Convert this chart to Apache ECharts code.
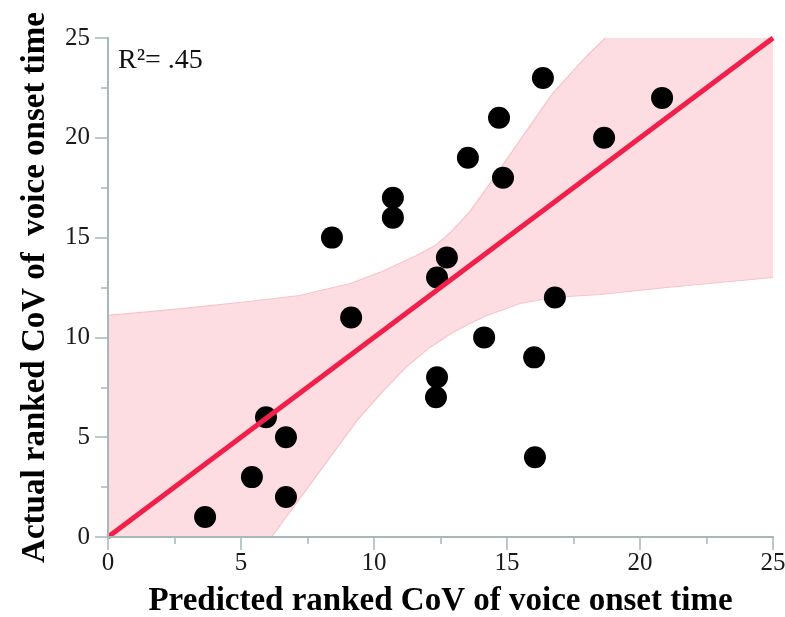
<!DOCTYPE html>
<html>
<head>
<meta charset="utf-8">
<script src="https://cdn.jsdelivr.net/npm/echarts@6/dist/echarts.min.js"></script>
<style>html,body{margin:0;padding:0;background:#fff;}#c{width:785px;height:617px;}</style>
</head>
<body>
<div id="c"></div>
<script>
// Data points: predicted (x) vs actual (y) ranked CoV of voice onset time
const predicted = [3.65, 5.41, 5.94, 6.69, 6.69, 8.42, 9.14, 10.71, 10.71, 12.37, 12.33, 12.37, 12.74, 13.53, 14.14, 14.70, 14.85, 16.02, 16.05, 16.35, 16.80, 18.65, 20.83];
const actual    = [1,    3,    6,    2,    5,    15,   11,   17,    16,    8,     7,     13,    14,    19,    10,    21,    18,    9,     4,     23,    12,    20,    22];
// Fit line (identity)
const fitX = [0, 25];
const fitY = [0, 25];
// Confidence band boundaries (clipped to plot)
const upperX = [0, 2.5, 5.3, 7.2, 9.1, 10.3, 11.6, 12.3, 12.9, 13.6, 14.25, 15.5, 16.7, 18.0, 18.7];
const upperY = [11.1, 11.4, 11.8, 12.1, 12.7, 13.3, 14.1, 14.6, 15.3, 16.3, 17.5, 19.9, 22.2, 24.1, 25];
const lowerX = [6.15, 7.8, 9.4, 10.4, 11.2, 12.1, 12.9, 13.6, 14.25, 15.5, 16.7, 18.5, 21, 25];
const lowerY = [0, 3.0, 5.9, 7.4, 8.5, 9.5, 10.2, 10.7, 11.1, 11.7, 12.0, 12.15, 12.5, 13.0];
const axisTicks = [0, 5, 10, 15, 20, 25];
const r2Label = 'R\u00B2= .45';

const chart = echarts.init(document.getElementById('c'), null, {renderer: 'canvas'});
const axisColor = '#a7b8b8';
const serif = '"Liberation Serif", "Times New Roman", serif';

function mainAxis(extra) {
  return Object.assign({
    type: 'value', min: axisTicks[0], max: axisTicks[axisTicks.length - 1], interval: axisTicks[1] - axisTicks[0],
    z: 10,
    axisLine: {show: true, lineStyle: {color: axisColor, width: 2}},
    axisTick: {show: true, inside: false, length: 13, lineStyle: {color: axisColor, width: 1.5}},
    minorTick: {show: true, splitNumber: 2, length: 7, lineStyle: {color: axisColor, width: 1.5}},
    splitLine: {show: false},
    nameLocation: 'middle',
    nameTextStyle: {fontFamily: serif, fontSize: 33, fontWeight: 'bold', color: '#000'}
  }, extra);
}
function frameAxis(extra) {
  return Object.assign({
    type: 'value', min: axisTicks[0], max: axisTicks[axisTicks.length - 1], z: 10,
    axisLine: {show: true, lineStyle: {color: axisColor, width: 2}},
    axisTick: {show: false}, axisLabel: {show: false}, splitLine: {show: false}
  }, extra);
}

const bandPoly = [];
for (let i = 0; i < upperX.length; i++) bandPoly.push([upperX[i], upperY[i]]);
bandPoly.push([25, 25]);
for (let i = lowerX.length - 1; i >= 0; i--) bandPoly.push([lowerX[i], lowerY[i]]);
bandPoly.push([0, 0]);

chart.setOption({
  animation: false,
  backgroundColor: '#fff',
  grid: {left: 108, right: 12, top: 38, bottom: 80, containLabel: false, outerBoundsMode: 'none'},
  xAxis: [
    mainAxis({position: 'bottom', name: 'Predicted ranked CoV of voice onset time', nameGap: 48,
      axisLabel: {fontFamily: serif, fontSize: 25, color: '#1a1a1a', margin: 14}}),
    frameAxis({position: 'top'})
  ],
  yAxis: [
    mainAxis({position: 'left', name: 'Actual ranked CoV of  voice onset time', nameGap: 56,
      axisLabel: {fontFamily: serif, fontSize: 25, color: '#1a1a1a', margin: 18}}),
    frameAxis({position: 'right'})
  ],
  graphic: [{
    type: 'text', left: 118, top: 47, z: 20,
    style: {text: r2Label, font: '28px ' + serif, fill: '#111'}
  }],
  series: [
    {
      type: 'custom', z: 1, silent: true,
      data: [0],
      renderItem: function (params, api) {
        const poly = bandPoly.map(p => api.coord(p));
        const up = upperX.map((x, i) => api.coord([x, upperY[i]]));
        const lo = lowerX.map((x, i) => api.coord([x, lowerY[i]]));
        return {type: 'group', children: [
          {type: 'polygon', shape: {points: poly}, style: {fill: '#fddde2', stroke: null}},
          {type: 'polyline', shape: {points: up}, style: {fill: null, stroke: '#f7c3cb', lineWidth: 1.2}},
          {type: 'polyline', shape: {points: lo}, style: {fill: null, stroke: '#f7c3cb', lineWidth: 1.2}}
        ]};
      }
    },
    {
      type: 'scatter', z: 3, symbol: 'circle', symbolSize: 22,
      itemStyle: {color: '#000', opacity: 1},
      data: predicted.map((x, i) => [x, actual[i]])
    },
    {
      type: 'line', z: 4, symbol: 'none',
      lineStyle: {color: '#f0204a', width: 5},
      data: fitX.map((x, i) => [x, fitY[i]])
    }
  ]
});
</script>
</body>
</html>
